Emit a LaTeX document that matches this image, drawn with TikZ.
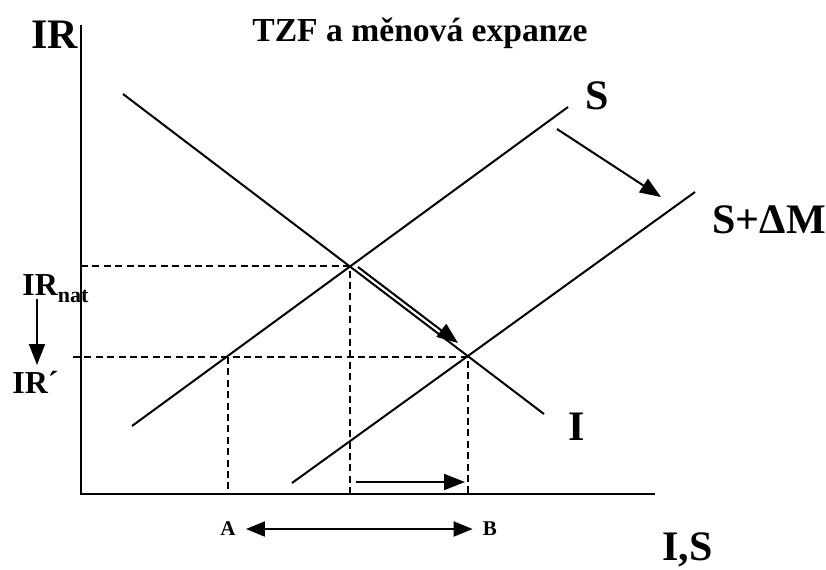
\documentclass[tikz,border=0pt]{standalone}
\usepackage{fontspec}
\setmainfont{Liberation Serif}
\usepackage{tikz}
\usetikzlibrary{
  arrows.meta,
  positioning,
  calc
}
\usepackage{xcolor}

\tikzset{
  curve/.style={line width=1pt},
  axisline/.style={line width=1.1pt},
  guide/.style={line width=0.9pt, dash pattern=on 3.5pt off 2.2pt},
  shiftarrow/.style={line width=1pt, -{Triangle[length=10.5pt,width=8pt]}},
  twoarrow/.style={line width=1pt,
    {Triangle[length=9.5pt,width=7.5pt]}-{Triangle[length=9.5pt,width=7.5pt]}},
  biglabel/.style={font=\fontsize{21}{24}\selectfont\bfseries, inner sep=0pt, anchor=base west},
  midlabel/.style={font=\fontsize{16}{18}\selectfont\bfseries, inner sep=0pt, anchor=base west},
  smalllabel/.style={font=\fontsize{10.5}{12}\selectfont\bfseries, inner ysep=0pt, inner xsep=5pt}
}

\begin{document}
\begin{tikzpicture}[x=0.5pt, y=-0.5pt]
  \useasboundingbox (0,0) rectangle (826,569);

  % Axes
  \coordinate (O) at (81,494);
  \coordinate (Ytop) at (81,25);
  \coordinate (Xend) at (655,494);
  \draw[axisline] (Ytop) -- (O) -- (Xend);

  % Curves I, S and S+dM
  \coordinate (I1) at (123,94);
  \coordinate (I2) at (544,414);
  \coordinate (S1) at (132,426);
  \coordinate (S2) at (568,107);
  \coordinate (M1) at (292,483);
  \coordinate (M2) at (695,192);
  \draw[curve] (I1) -- (I2);
  \draw[curve] (S1) -- (S2);
  \draw[curve] (M1) -- (M2);

  % Equilibria
  \coordinate (E0) at (350,266);
  \coordinate (E1) at (468,357);
  \coordinate (F) at (228,357);

  % Dashed guides
  \draw[guide] (O |- E0) -- (E0) -- (E0 |- O);
  \draw[guide] ($(O |- E1)+(-8,0)$) -- (E1) -- (E1 |- O);
  \draw[guide] (F) -- (F |- O);

  % Shift arrows
  \coordinate (ArrA) at (358,267);
  \coordinate (ArrB) at (458,343);
  \draw[shiftarrow] (ArrA) -- (ArrB);
  \coordinate (ArrC) at (557,129);
  \coordinate (ArrD) at (661,197);
  \draw[shiftarrow] (ArrC) -- (ArrD);
  \coordinate (ArrE) at (356,482);
  \coordinate (ArrF) at (465,482);
  \draw[shiftarrow] (ArrE) -- (ArrF);

  % Labels
  \node[biglabel] (lIR) at (31,48) {IR};
  \node[font=\fontsize{16.8}{20}\selectfont\bfseries, inner sep=0pt, anchor=base west]
    (title) at (252,41) {TZF a měnová expanze};
  \node[biglabel] (lS) at (585,109) {S};
  \node[biglabel] (lSM) at (712,233) {S+ΔM};
  \node[biglabel] (lI) at (568,440) {I};
  \node[biglabel] (lIS) at (662,560) {I,S};
  \node[midlabel] (lnat) at (22,295)
    {IR\raisebox{-3.5pt}{\fontsize{11}{12}\selectfont nat}};
  \node[midlabel] (lprime) at (12,393) {IR´};

  % Rate fall
  \coordinate (natTop) at (37,299);
  \coordinate (natBot) at (37,365);
  \draw[shiftarrow] (natTop) -- (natBot);

  % A -- B
  \node[smalllabel] (A) at (228,529) {A};
  \node[smalllabel] (B) at (490,529) {B};
  \draw[twoarrow] (A) -- (B);
\end{tikzpicture}
\end{document}
